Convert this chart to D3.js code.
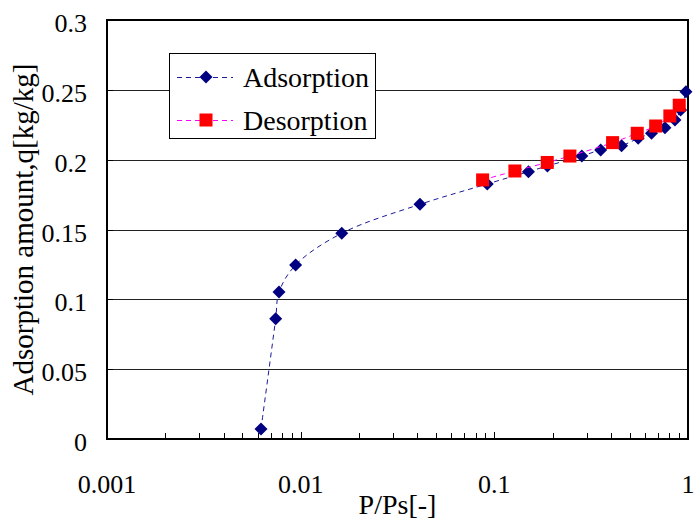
<!DOCTYPE html>
<html><head><meta charset="utf-8">
<script src="https://cdn.jsdelivr.net/npm/d3@7"></script>
<style>body{margin:0;background:#fff}</style>
</head><body>
<svg id="c" width="698" height="520"></svg>
<script>
const adsX = [0.00624, 0.00743, 0.00773, 0.00942, 0.0163, 0.0413, 0.0919, 0.150, 0.188, 0.283, 0.354, 0.454, 0.553, 0.648, 0.760, 0.856, 0.916, 0.976];
const adsY = [0.0072, 0.0861, 0.1052, 0.1246, 0.1473, 0.168, 0.1826, 0.1914, 0.1955, 0.2026, 0.2070, 0.2100, 0.2153, 0.2189, 0.2229, 0.2284, 0.2356, 0.2487];
const desX = [0.087, 0.1277, 0.1876, 0.2456, 0.408, 0.547, 0.681, 0.806, 0.901];
const desY = [0.1855, 0.1919, 0.1980, 0.2026, 0.2122, 0.2189, 0.2241, 0.2313, 0.2390];
const xTicks = [0.001, 0.01, 0.1, 1];
const xTickLabels = ["0.001", "0.01", "0.1", "1"];
const yTicks = [0, 0.05, 0.1, 0.15, 0.2, 0.25, 0.3];
const yTickLabels = ["0", "0.05", "0.1", "0.15", "0.2", "0.25", "0.3"];
const seriesNames = ["Adsorption", "Desorption"];

const FF = "Times New Roman";
const svg = d3.select("#c");
const L = 107, R = 688, T = 20, B = 439;
const x = d3.scaleLog().domain([0.001, 1]).range([L, R]);
const y = d3.scaleLinear().domain([0, 0.3]).range([B, T]);

// gridlines
svg.append("g").selectAll("line").data(yTicks.slice(1, -1)).join("line")
  .attr("x1", L).attr("x2", R).attr("y1", d => Math.round(y(d)) + 0.5).attr("y2", d => Math.round(y(d)) + 0.5)
  .attr("stroke", "#222").attr("stroke-width", 1);

// x minor + major ticks (inward)
const minor = [];
for (let e = -3; e < 0; e++) for (let m = 1; m <= 9; m++) minor.push(m * Math.pow(10, e));
minor.push(1);
svg.append("g").selectAll("line").data(minor).join("line")
  .attr("x1", d => Math.round(x(d)) + 0.5).attr("x2", d => Math.round(x(d)) + 0.5)
  .attr("y1", B).attr("y2", d => B - (xTicks.some(t => Math.abs(t - d) < 1e-12) ? 7 : 6))
  .attr("stroke", "#000").attr("stroke-width", 1);
// y ticks inward
svg.append("g").selectAll("line").data(yTicks).join("line")
  .attr("x1", L).attr("x2", L + 6).attr("y1", d => Math.round(y(d)) + 0.5).attr("y2", d => Math.round(y(d)) + 0.5)
  .attr("stroke", "#000").attr("stroke-width", 1);

// frame
svg.append("rect").attr("x", L).attr("y", T).attr("width", R - L).attr("height", B - T)
  .attr("fill", "none").attr("stroke", "#000").attr("stroke-width", 2);

// tick labels
svg.append("g").selectAll("text").data(yTicks).join("text")
  .style("font-family", FF)
  .attr("x", 87).attr("y", d => y(d) + 12).attr("text-anchor", "end").attr("font-size", 26)
  .text((d, i) => yTickLabels[i]);
svg.append("g").selectAll("text").data(xTicks).join("text")
  .style("font-family", FF)
  .attr("x", d => x(d)).attr("y", 493).attr("text-anchor", "middle").attr("font-size", 26)
  .text((d, i) => xTickLabels[i]);

// axis titles
svg.append("text").style("font-family", FF).attr("font-size", 28)
  .attr("x", (L + R) / 2).attr("y", 514).attr("text-anchor", "middle").text("P/Ps[-]");
svg.append("text").style("font-family", FF).attr("font-size", 29)
  .attr("transform", `translate(33,${(T + B) / 2}) rotate(-90)`).attr("text-anchor", "middle")
  .text("Adsorption amount,q[kg/kg]");

const line = d3.line().x(d => x(d[0])).y(d => y(d[1])).curve(d3.curveCatmullRom.alpha(0.5));
const ads = adsX.map((v, i) => [v, adsY[i]]);
const des = desX.map((v, i) => [v, desY[i]]);
const diamond = (s) => `M0,${-s}L${s},0L0,${s}L${-s},0Z`;

svg.append("path").attr("d", line(ads)).attr("fill", "none").attr("stroke", "#1a1a9a").attr("stroke-width", 1).attr("stroke-dasharray", "5,4");
svg.append("g").selectAll("path").data(ads).join("path")
  .attr("transform", d => `translate(${x(d[0])},${y(d[1])})`).attr("d", diamond(6.5)).attr("fill", "#000080");
svg.append("path").attr("d", line(des)).attr("fill", "none").attr("stroke", "#ff00ff").attr("stroke-width", 1).attr("stroke-dasharray", "5,4");
svg.append("g").selectAll("rect").data(des).join("rect")
  .attr("x", d => x(d[0]) - 6.5).attr("y", d => y(d[1]) - 6.5).attr("width", 13).attr("height", 13).attr("fill", "#ff0000");

// legend
const lg = svg.append("g");
lg.append("rect").attr("x", 169.5).attr("y", 53.5).attr("width", 206).attr("height", 85).attr("fill", "#fff").attr("stroke", "#000").attr("stroke-width", 1);
const rows = [{c: "#1a1a9a", y: 77, m: "d"}, {c: "#ff00ff", y: 120, m: "s"}];
rows.forEach((r, i) => {
  lg.append("line").attr("x1", 177).attr("x2", 233).attr("y1", r.y + 0.5).attr("y2", r.y + 0.5)
    .attr("stroke", r.c).attr("stroke-dasharray", "5,4");
  if (r.m === "d") lg.append("path").attr("transform", `translate(206,${r.y})`).attr("d", diamond(6.5)).attr("fill", "#000080");
  else lg.append("rect").attr("x", 199.5).attr("y", r.y - 6.5).attr("width", 13).attr("height", 13).attr("fill", "#ff0000");
  lg.append("text").style("font-family", FF).attr("font-size", 28).attr("x", 243).attr("y", r.y + 10).text(seriesNames[i]);
});
</script>
</body></html>
